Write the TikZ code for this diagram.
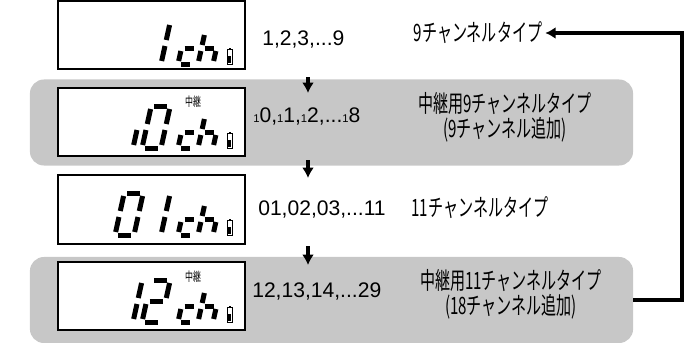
\documentclass[tikz,border=0pt]{standalone}
\usepackage{fontspec}
\setmainfont{Liberation Sans}
\newfontfamily\jp[FakeStretch=0.63]{Noto Sans CJK JP}
\usepackage{tikz}
\usetikzlibrary{arrows.meta}
\tikzset{>={Latex[width=3mm,length=2.6mm]}}

\newcommand{\smallone}{{\fontsize{8}{8}\selectfont 1}}

% seven segment cell: origin (bottom left), width, height, segments
\newcommand{\lcdchar}[4]{%
  \begin{scope}[shift={#1}, xslant=0.22]
    \coordinate (sa1) at (3,-#3);      \coordinate (sa2) at (#2-3,-#3);
    \coordinate (sb1) at (#2,-#3+3);   \coordinate (sb2) at (#2,-#3/2-3);
    \coordinate (sc1) at (#2,-#3/2+3); \coordinate (sc2) at (#2,-3);
    \coordinate (sd1) at (3,0);        \coordinate (sd2) at (#2-3,0);
    \coordinate (se1) at (0,-#3/2+3);  \coordinate (se2) at (0,-3);
    \coordinate (sf1) at (0,-#3+3);    \coordinate (sf2) at (0,-#3/2-3);
    \coordinate (sg1) at (3,-#3/2);    \coordinate (sg2) at (#2-3,-#3/2);
    \foreach \s in {#4}
      \draw[lcdseg] (s\s1) -- (s\s2);
  \end{scope}}

% battery mark
\newcommand{\batt}[1]{%
  \begin{scope}[shift={#1}]
    \draw[line width=0.6pt] (0,0) rectangle (5,-15);
    \fill (1,-1) rectangle (4,-8);
    \fill (1.5,-15) rectangle (3.5,-16.5);
  \end{scope}}

\begin{document}
\begin{tikzpicture}[
    x = 0.025cm, y = -0.025cm,
    band/.style = {fill=black!22, rounded corners=0.35cm, inner sep=0pt,
        minimum width=15.075cm, minimum height=2.15cm},
    lcdbox/.style = {draw, line width=1.4pt, fill=white, inner sep=0pt,
        minimum width=4.675cm, minimum height=1.72cm},
    lcdseg/.style = {line width=0.125cm, line cap=butt},
    num/.style = {font=\fontsize{15}{18}\selectfont, inner sep=0pt, anchor=base west},
    lbl/.style = {font={\jp\fontsize{17}{17.5}\selectfont}, align=center, inner sep=2pt},
    relaytext/.style = {font={\jp\fontsize{9}{9}\selectfont}, inner sep=0pt},
    stepline/.style = {->, line width=2.8pt}
  ]
  \useasboundingbox (0,0) rectangle (686,343);

  \node[band] (band1) at (331.5,122.5) {};
  \node[band] (band2) at (331.5,300) {};

  \node[lcdbox] (disp1) at (151.5,35) {};
  \node[lcdbox] (disp2) at (151.5,122) {};
  \node[lcdbox] (disp3) at (151.5,209.5) {};
  \node[lcdbox] (disp4) at (151.5,296) {};

  % digits
  \lcdchar{(142,64)}{19}{42}{b,c}
  \lcdchar{(114,148)}{19}{42}{c}
  \lcdchar{(142,148)}{19}{42}{a,b,c,d,e,f}
  \lcdchar{(115,235)}{19}{42}{a,b,c,d,e,f}
  \lcdchar{(142,235)}{19}{42}{b,c}
  \lcdchar{(114,322)}{19}{42}{b,c}
  \lcdchar{(142,322)}{19}{42}{a,b,g,e,d}
  % "ch" and battery
  \foreach \b in {64,148,235,322} {
    \lcdchar{(178,\b)}{15}{32}{g,e,d}
    \lcdchar{(198,\b)}{15}{32}{f,e,g,c}
    \batt{(227,\b)}
  }
  \node[relaytext] (relay2) at (193,102) {中継};
  \node[relaytext] (relay4) at (193,277) {中継};

  \node[num] (n1) at (262,45) {1,2,3,...9};
  \node[num] (n2) at (253,122) {\smallone0,\smallone1,\smallone2,...\smallone8};
  \node[num] (n3) at (258,215) {01,02,03,...11};
  \node[num] (n4) at (252,297) {12,13,14,...29};

  \node[lbl] (t1) at (478,33) {9チャンネルタイプ};
  \node[lbl] (t2) at (505,117.5) {中継用9チャンネルタイプ\\(9チャンネル追加)};
  \node[lbl] (t3) at (480,208) {11チャンネルタイプ};
  \node[lbl] (t4) at (511,294) {中継用11チャンネルタイプ\\(18チャンネル追加)};

  \coordinate (d1a) at (308,77);  \coordinate (d1b) at (308,93);
  \coordinate (d2a) at (308,160); \coordinate (d2b) at (308,178);
  \coordinate (d3a) at (308,246); \coordinate (d3b) at (308,265);
  \foreach \i in {1,2,3}
    \draw[stepline] (d\i a) -- (d\i b);

  \coordinate (rt) at (682,33);
  \draw[stepline] (band2.east) -| (rt) -- (t1.east);
\end{tikzpicture}
\end{document}
